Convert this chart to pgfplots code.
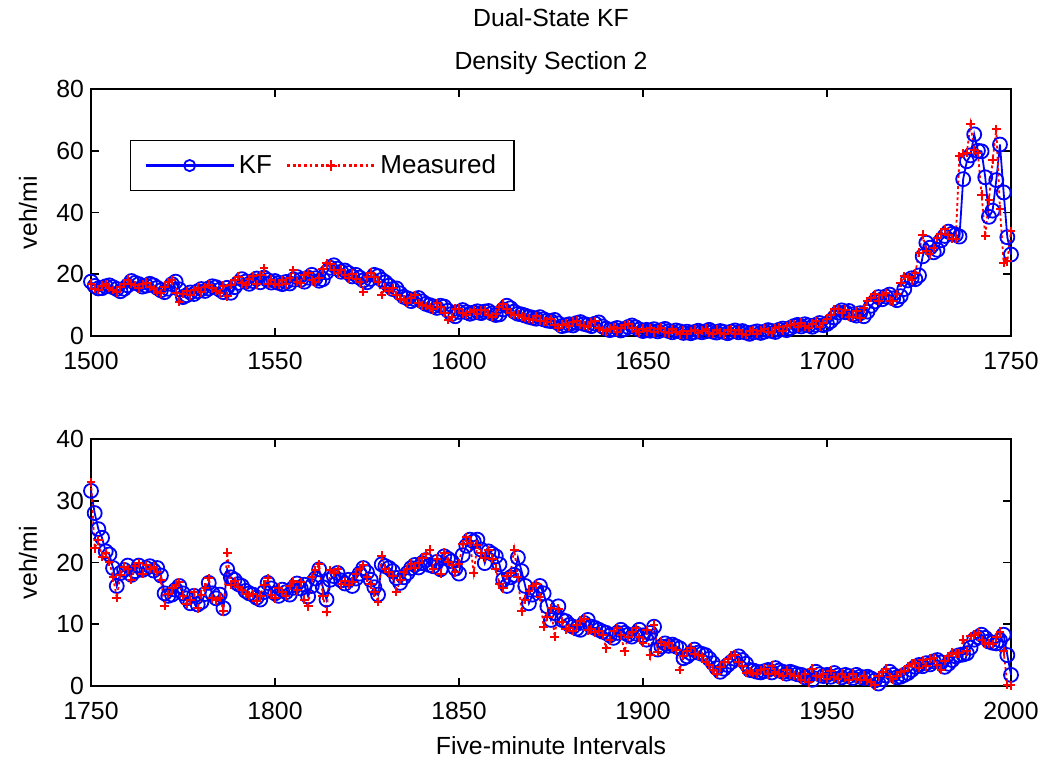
\documentclass[border=0pt]{standalone}
\usepackage{fontspec}
\setmainfont{Liberation Sans}
\usepackage{pgfplots}
\usepackage{pgfplotstable}
\pgfplotsset{compat=1.18}
\newcommand{\fnt}{\fontsize{12.4bp}{14bp}\selectfont}
\newcommand{\lfnt}{\fontsize{13bp}{15bp}\selectfont}

\pgfplotstableread{
x kf meas
1500 17.6 17.0
1501 16.2 15.2
1502 15.4 15.0
1503 15.5 16.3
1504 16.1 16.8
1505 16.4 15.6
1506 15.8 14.9
1507 15.2 14.1
1508 14.5 15.8
1509 15.3 16.9
1510 16.4 18.2
1511 17.8 16.9
1512 17.2 16.5
1513 16.8 15.5
1514 16.0 16.7
1515 16.3 17.3
1516 16.9 16.0
1517 16.4 15.1
1518 15.6 14.3
1519 14.8 13.8
1520 14.2 15.9
1521 15.3 17.4
1522 16.8 18.1
1523 17.6 14.0
1524 15.1 11.1
1525 12.6 13.6
1526 13.2 14.6
1527 14.1 13.2
1528 13.6 14.9
1529 14.5 15.6
1530 15.2 14.1
1531 14.6 15.9
1532 15.4 16.6
1533 16.1 15.5
1534 15.8 14.6
1535 15.0 13.8
1536 14.2 16.3
1537 15.6 12.9
1538 14.0 16.5
1539 15.8 18.0
1540 17.2 19.2
1541 18.4 17.1
1542 17.6 16.5
1543 16.9 18.4
1544 17.8 19.3
1545 18.6 16.8
1546 17.4 19.6
1547 18.9 21.9
1548 18.1 16.9
1549 17.3 18.2
1550 17.8 16.9
1551 17.2 16.5
1552 16.8 18.0
1553 17.5 16.7
1554 17.0 18.9
1555 18.3 21.4
1556 19.1 17.6
1557 18.2 17.1
1558 17.6 19.6
1559 18.9 20.4
1560 19.8 18.0
1561 18.7 17.4
1562 17.9 18.9
1563 18.4 21.6
1564 20.6 23.6
1565 22.1 23.2
1566 22.9 21.3
1567 21.8 20.3
1568 20.8 21.5
1569 21.2 19.9
1570 20.4 18.7
1571 19.3 20.2
1572 19.8 18.5
1573 18.9 17.4
1574 18.0 14.4
1575 17.4 19.1
1576 18.5 20.5
1577 19.8 19.0
1578 19.4 17.5
1579 18.2 13.3
1580 17.4 15.6
1581 16.3 14.6
1582 15.2 15.5
1583 15.4 13.2
1584 13.8 12.0
1585 12.7 11.8
1586 12.2 10.8
1587 11.3 12.4
1588 11.9 13.3
1589 12.3 10.6
1590 11.2 9.9
1591 10.4 9.7
1592 10.0 9.2
1593 9.6 8.7
1594 9.1 10.6
1595 9.8 9.3
1596 9.5 7.5
1597 8.2 5.2
1598 7.1 6.0
1599 6.4 8.8
1600 7.8 8.9
1601 8.4 7.3
1602 7.7 6.9
1603 7.2 7.8
1604 7.6 8.3
1605 8.0 7.0
1606 7.4 8.3
1607 7.9 8.3
1608 8.1 6.9
1609 7.3 6.3
1610 6.8 7.2
1611 7.0 9.4
1612 8.6 10.5
1613 9.8 8.6
1614 9.0 7.4
1615 7.9 6.8
1616 7.2 6.9
1617 7.0 6.3
1618 6.6 5.9
1619 6.2 5.6
1620 5.9 5.3
1621 5.6 6.5
1622 6.1 5.0
1623 5.4 4.7
1624 5.0 4.6
1625 4.8 5.5
1626 5.2 3.6
1627 4.1 2.7
1628 3.2 3.7
1629 3.5 4.0
1630 3.8 3.1
1631 3.4 4.6
1632 4.2 4.9
1633 4.5 3.6
1634 3.9 3.3
1635 3.6 2.9
1636 3.2 4.5
1637 4.0 4.8
1638 4.4 2.6
1639 3.1 1.9
1640 2.4 1.5
1641 1.9 2.4
1642 2.2 2.9
1643 2.6 1.4
1644 1.8 2.6
1645 2.3 3.4
1646 2.9 3.8
1647 3.4 2.5
1648 2.8 1.7
1649 2.1 1.2
1650 1.6 2.3
1651 2.0 1.5
1652 1.7 2.6
1653 2.2 1.2
1654 1.5 2.2
1655 1.9 2.7
1656 2.3 1.2
1657 1.6 0.9
1658 1.2 2.2
1659 1.8 1.3
1660 1.5 0.6
1661 1.0 1.7
1662 1.4 0.6
1663 0.9 1.6
1664 1.3 2.0
1665 1.7 0.9
1666 1.2 1.7
1667 1.5 2.4
1668 2.0 1.0
1669 1.4 0.8
1670 1.1 2.0
1671 1.6 1.1
1672 1.3 0.6
1673 0.9 1.8
1674 1.4 2.1
1675 1.8 0.8
1676 1.2 1.9
1677 1.6 0.8
1678 1.1 0.4
1679 0.7 1.6
1680 1.2 1.8
1681 1.5 0.7
1682 1.0 1.7
1683 1.4 2.3
1684 1.9 1.4
1685 1.6 1.1
1686 1.3 2.5
1687 2.0 2.8
1688 2.4 1.6
1689 1.9 3.1
1690 2.6 3.7
1691 3.2 3.9
1692 3.6 2.8
1693 3.1 4.3
1694 3.8 3.1
1695 3.4 2.7
1696 3.0 4.0
1697 3.6 4.7
1698 4.2 3.0
1699 3.5 4.2
1700 3.9 5.6
1701 4.8 6.9
1702 6.0 8.6
1703 7.6 8.7
1704 8.3 7.3
1705 7.7 8.5
1706 8.1 6.2
1707 7.0 6.3
1708 6.6 8.0
1709 7.4 5.8
1710 6.4 9.0
1711 7.9 11.2
1712 9.8 12.3
1713 11.2 13.5
1714 12.6 11.4
1715 11.9 13.3
1716 12.8 13.8
1717 13.4 11.4
1718 12.2 11.2
1719 11.6 13.6
1720 12.9 17.2
1721 15.2 19.4
1722 18.0 19.1
1723 18.7 18.1
1724 18.4 20.3
1725 19.6 27.0
1726 25.8 32.8
1727 30.2 27.6
1728 28.6 26.4
1729 27.1 28.5
1730 27.9 31.8
1731 31.0 33.0
1732 32.4 34.6
1733 33.8 32.6
1734 33.1 31.4
1735 32.8 31.5
1736 32.2 58.2
1737 50.8 59.1
1738 56.6 59.4
1739 58.5 68.6
1740 65.3 60.2
1741 60.0 59.3
1742 59.8 45.8
1743 51.4 32.4
1744 38.6 44.0
1745 40.6 57.0
1746 50.5 67.0
1747 62.0 41.0
1748 46.5 23.7
1749 32.0 24.2
1750 26.4 34.0
}\topdata

\pgfplotstableread{
x kf meas
1750 31.6 33.0
1751 28.0 22.3
1752 25.4 23.6
1753 24.0 20.9
1754 21.8 21.5
1755 21.3 20.1
1756 19.1 17.6
1757 16.2 14.3
1758 18.3 18.0
1759 18.8 19.3
1760 19.5 18.9
1761 18.0 17.2
1762 18.6 19.4
1763 19.5 19.9
1764 18.8 18.2
1765 19.1 19.6
1766 19.4 19.0
1767 18.7 19.3
1768 19.1 18.5
1769 17.9 17.2
1770 15.0 13.0
1771 14.6 14.9
1772 14.8 15.8
1773 15.6 16.4
1774 16.2 16.8
1775 15.0 14.6
1776 14.2 13.3
1777 13.4 13.9
1778 14.6 15.2
1779 13.2 12.6
1780 13.6 14.8
1781 14.9 15.9
1782 16.7 17.5
1783 15.0 14.2
1784 14.2 13.9
1785 14.8 14.3
1786 12.6 12.1
1787 18.9 21.6
1788 17.6 16.4
1789 17.2 17.0
1790 16.5 16.1
1791 16.2 15.5
1792 15.4 14.9
1793 15.0 14.6
1794 14.8 14.9
1795 14.3 13.8
1796 14.0 14.6
1797 15.2 16.4
1798 16.7 17.5
1799 15.8 14.8
1800 15.0 14.2
1801 14.6 15.9
1802 15.6 15.3
1803 15.2 14.6
1804 14.8 16.2
1805 15.9 17.0
1806 16.6 15.5
1807 15.8 16.8
1808 16.4 14.0
1809 14.5 12.9
1810 16.2 17.6
1811 17.4 18.8
1812 18.9 19.7
1813 16.0 14.6
1814 14.0 12.0
1815 17.2 18.8
1816 17.8 18.3
1817 18.3 18.9
1818 17.1 16.5
1819 16.6 17.0
1820 17.2 16.4
1821 16.2 16.9
1822 17.4 18.1
1823 18.2 19.0
1824 19.1 19.6
1825 18.4 17.6
1826 17.2 16.5
1827 16.0 15.2
1828 14.8 13.6
1829 19.7 21.1
1830 19.4 19.0
1831 19.1 18.5
1832 18.6 17.8
1833 17.5 15.3
1834 16.7 17.2
1835 17.6 18.4
1836 18.3 18.9
1837 19.1 19.8
1838 19.6 19.1
1839 19.2 20.0
1840 19.9 20.8
1841 20.4 21.3
1842 19.6 22.1
1843 19.4 19.0
1844 20.1 20.6
1845 18.9 18.2
1846 21.0 21.6
1847 20.6 20.1
1848 20.2 19.6
1849 19.0 18.4
1850 18.2 19.8
1851 21.2 23.0
1852 22.7 24.1
1853 23.7 23.2
1854 23.4 18.3
1855 23.7 22.9
1856 22.1 21.5
1857 19.9 20.8
1858 21.8 22.0
1859 21.4 20.6
1860 21.0 19.0
1861 19.7 16.5
1862 17.2 15.8
1863 16.2 17.8
1864 17.6 18.3
1865 18.0 22.1
1866 20.8 17.6
1867 18.6 12.1
1868 16.2 14.0
1869 13.4 15.4
1870 14.8 16.2
1871 15.6 16.5
1872 16.2 14.4
1873 15.0 9.6
1874 12.9 11.2
1875 10.7 12.6
1876 11.8 8.0
1877 12.9 12.5
1878 10.7 10.4
1879 10.5 9.2
1880 9.9 9.4
1881 9.6 8.9
1882 9.3 9.8
1883 9.1 10.6
1884 10.2 10.9
1885 10.7 9.0
1886 9.6 9.2
1887 9.4 8.7
1888 9.1 8.9
1889 8.8 8.3
1890 8.6 6.1
1891 8.2 7.4
1892 7.8 8.9
1893 8.6 9.4
1894 9.1 8.2
1895 8.6 5.6
1896 8.3 8.0
1897 8.0 8.7
1898 8.5 9.4
1899 9.1 7.9
1900 8.2 7.0
1901 7.5 9.0
1902 8.6 5.0
1903 9.6 9.9
1904 5.9 5.5
1905 6.4 7.2
1906 6.9 6.6
1907 6.5 6.9
1908 6.7 6.2
1909 6.4 5.8
1910 6.1 2.6
1911 4.5 4.9
1912 4.8 5.6
1913 5.3 6.2
1914 5.9 5.2
1915 5.4 5.0
1916 5.2 4.8
1917 5.0 3.9
1918 4.4 3.4
1919 3.7 2.6
1920 2.9 2.0
1921 2.3 3.0
1922 2.8 3.9
1923 3.4 4.3
1924 3.9 4.9
1925 4.4 5.1
1926 4.8 3.9
1927 4.2 3.2
1928 3.6 2.1
1929 2.6 2.4
1930 2.5 2.1
1931 2.3 2.0
1932 2.2 2.6
1933 2.4 2.8
1934 2.6 1.9
1935 2.2 3.3
1936 2.9 2.2
1937 2.5 2.0
1938 2.3 1.6
1939 2.0 2.6
1940 2.3 1.9
1941 2.1 1.7
1942 1.9 1.6
1943 1.8 1.0
1944 1.4 1.9
1945 1.6 0.6
1946 1.0 2.8
1947 2.3 1.6
1948 1.9 1.4
1949 1.6 2.0
1950 1.8 1.2
1951 1.5 2.5
1952 2.1 1.4
1953 1.7 1.1
1954 1.4 2.0
1955 1.8 1.4
1956 1.6 1.0
1957 1.3 2.0
1958 1.8 1.2
1959 1.5 1.0
1960 1.3 1.7
1961 1.5 0.9
1962 1.2 0.6
1963 0.9 0.1
1964 0.4 1.6
1965 1.1 2.2
1966 1.7 2.8
1967 2.3 1.4
1968 1.8 1.1
1969 1.4 1.7
1970 1.5 2.2
1971 1.8 2.5
1972 2.1 3.2
1973 2.6 3.6
1974 3.1 3.7
1975 3.4 2.9
1976 3.2 4.2
1977 3.7 3.2
1978 3.5 4.4
1979 4.0 4.5
1980 4.2 3.4
1981 3.8 2.6
1982 3.1 4.1
1983 3.6 4.8
1984 4.2 5.4
1985 4.8 5.2
1986 5.0 5.3
1987 5.1 7.5
1988 5.3 5.6
1989 6.2 8.1
1990 7.5 8.3
1991 7.9 8.6
1992 8.3 7.4
1993 7.8 6.8
1994 7.2 6.9
1995 7.0 6.8
1996 6.9 7.9
1997 7.4 8.8
1998 8.3 5.6
1999 5.0 0.2
2000 1.8 0.1
}\botdata

\pgfplotsset{
  matlab/.style={
    width=460bp, height=123.5bp, scale only axis,
    clip=false,
    tick align=inside,
    major tick length=4bp,
    axis line style={line width=0.8bp},
    every tick/.style={black, line width=0.8bp},
    tick label style={font=\fnt},
    xticklabel style={yshift=-4.5bp},
    label style={font=\fnt},
    /pgf/number format/assume math mode=true,
    /pgf/number format/1000 sep={},
    ylabel style={at={(axis description cs:-0.0685,0.5)}, anchor=center},
    every axis title shift=0pt,
  },
  kfstyle/.style={blue, line width=0.9bp, mark=o, mark size=3.5bp,
    mark options={solid, line width=0.9bp}},
  msstyle/.style={red, line width=0.9bp, dash pattern=on 1.4bp off 1.4bp,
    mark=+, mark size=2.2bp, mark options={solid, line width=1bp}},
}

\begin{document}
\begin{tikzpicture}
\path[use as bounding box] (-45.5bp,-42.5bp) rectangle (477bp,343bp);

\begin{axis}[matlab,
  at={(0bp,175bp)}, anchor=south west,
  xmin=1500, xmax=1750, ymin=0, ymax=80,
  xtick={1500,1550,1600,1650,1700,1750},
  ytick={0,20,40,60,80},
  ylabel={veh/mi},
  title={Density Section 2},
  title style={font=\fnt, at={(axis description cs:0.5,1)}, anchor=center, yshift=13bp},
  legend columns=2,
  legend style={at={(axis description cs:0.042,0.794)}, anchor=north west,
    draw=black, line width=0.8bp, font=\lfnt, inner xsep=7bp, inner ysep=5bp,
    /tikz/every even column/.append style={column sep=5bp}},
  legend image code/.code={
    \draw[mark repeat=2, mark phase=2, #1, line width=1.2bp, mark size=2.8bp] plot coordinates {(0bp,0bp) (22bp,0bp) (44bp,0bp)};
  },
]
\addplot[kfstyle] table[x=x, y=kf] {\topdata};
\addlegendentry{KF}
\addplot[msstyle] table[x=x, y=meas] {\topdata};
\addlegendentry{Measured}
\node[font=\fnt] at (axis description cs:0.5,1) [yshift=35.5bp] {Dual-State KF};
\end{axis}

\begin{axis}[matlab,
  at={(0bp,0bp)}, anchor=south west,
  xmin=1750, xmax=2000, ymin=0, ymax=40,
  xtick={1750,1800,1850,1900,1950,2000},
  ytick={0,10,20,30,40},
  ylabel={veh/mi},
  xlabel={Five-minute Intervals},
  xlabel style={at={(axis description cs:0.5,-0.24)}, anchor=center},
]
\addplot[kfstyle] table[x=x, y=kf] {\botdata};
\addplot[msstyle] table[x=x, y=meas] {\botdata};
\end{axis}
\end{tikzpicture}
\end{document}
